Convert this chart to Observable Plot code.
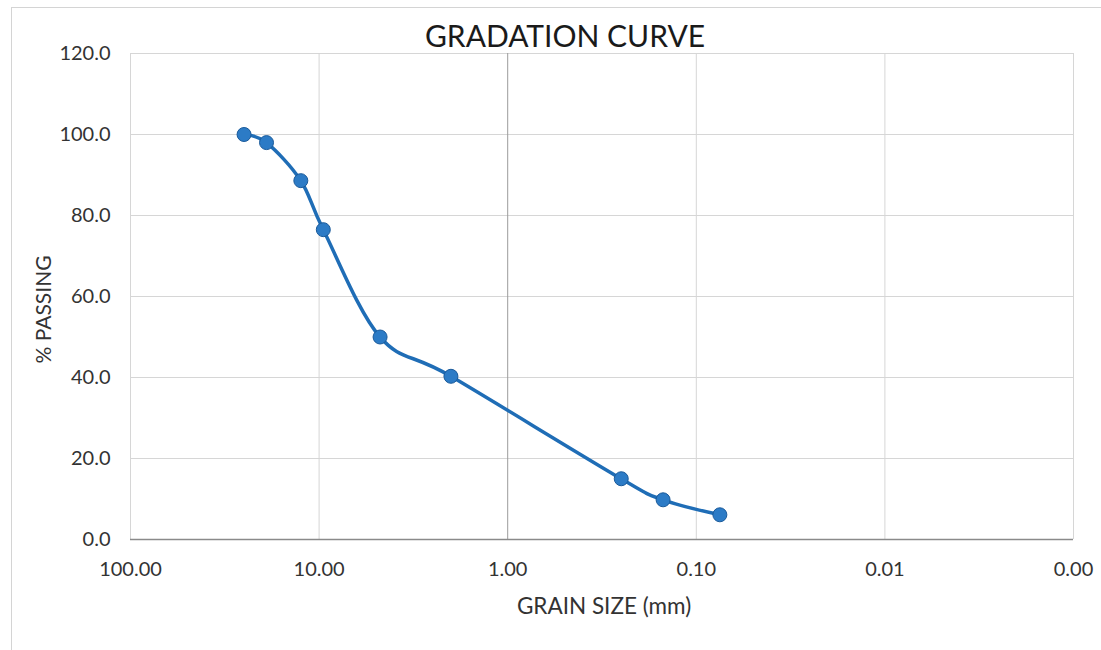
<!DOCTYPE html>
<html>
<head>
<meta charset="utf-8">
<script src="https://cdn.jsdelivr.net/npm/d3@7"></script>
<script src="https://cdn.jsdelivr.net/npm/@observablehq/plot@0.6"></script>
<style>
  html, body { margin: 0; padding: 0; background: #fff; }
  #wrap { position: relative; width: 1101px; height: 650px; overflow: hidden; }
  #frame { position: absolute; left: 11px; top: 7px; width: 1200px; height: 700px;
           border-top: 1px solid #d4d4d4; border-left: 1px solid #d4d4d4; pointer-events: none; }
  #chart { position: absolute; left: 0; top: 0; }
</style>
</head>
<body>
<div id="wrap"><div id="chart"></div><div id="frame"></div></div>
<script>
// Data
const grainSize = [25.0, 19.0, 12.5, 9.5, 4.75, 2.0, 0.25, 0.15, 0.075]; // mm
const percentPassing = [100.0, 98.0, 88.6, 76.5, 50.0, 40.3, 15.0, 9.8, 6.1];
const xTickValues = [100, 10, 1, 0.1, 0.01, 0.001];
const yTickValues = [0, 20, 40, 60, 80, 100, 120];
const titleText = "GRADATION CURVE";
const xLabelText = "GRAIN SIZE (mm)";
const yLabelText = "% PASSING";

const data = grainSize.map((s, i) => ({size: s, passing: percentPassing[i]}));

const chart = Plot.plot({
  width: 1101,
  height: 650,
  marginLeft: 130,
  marginRight: 28,
  marginTop: 53,
  marginBottom: 111,
  style: {fontFamily: "Lato, 'Open Sans', sans-serif", fontSize: "20px", color: "#333", background: "transparent"},
  x: {type: "log", domain: [100, 0.001]},
  y: {domain: [0, 120]},
  marks: [
    Plot.gridY(yTickValues.filter(d => d > 0), {stroke: "#d6d6d6", strokeOpacity: 1}),
    Plot.gridX(xTickValues.filter(d => d !== 1), {stroke: "#d6d6d6", strokeOpacity: 1}),
    Plot.gridX([1], {stroke: "#9c9c9c", strokeOpacity: 1}),
    Plot.ruleY([0], {stroke: "#8a8a8a", strokeWidth: 1.5}),
    Plot.axisY(yTickValues, {tickSize: 0, tickPadding: 20, tickFormat: d => d.toFixed(1), label: null, fontSize: 20}),
    Plot.axisX(xTickValues, {tickSize: 0, tickPadding: 22, tickFormat: d => d.toFixed(2), label: null, fontSize: 20}),
    Plot.line(data, {x: "size", y: "passing", curve: "cardinal", stroke: "#1f6db6", strokeWidth: 3.5}),
    Plot.dot(data, {x: "size", y: "passing", r: 7, fill: "#2c7bc6", stroke: "#1a5a9a", strokeWidth: 1}),
    Plot.text([titleText], {frameAnchor: "top", lineAnchor: "middle", textAnchor: "middle", dx: -37, dy: -16, fontSize: 30, fill: "#1a1a1a"}),
    Plot.text([xLabelText], {frameAnchor: "bottom", lineAnchor: "middle", textAnchor: "middle", dx: 2, dy: 67, fontSize: 22.5, fill: "#333"}),
    Plot.text([yLabelText], {frameAnchor: "left", lineAnchor: "middle", textAnchor: "middle", dx: -86, dy: 13, rotate: -90, fontSize: 21, fill: "#333"})
  ]
});
document.getElementById("chart").appendChild(chart);
</script>
</body>
</html>
